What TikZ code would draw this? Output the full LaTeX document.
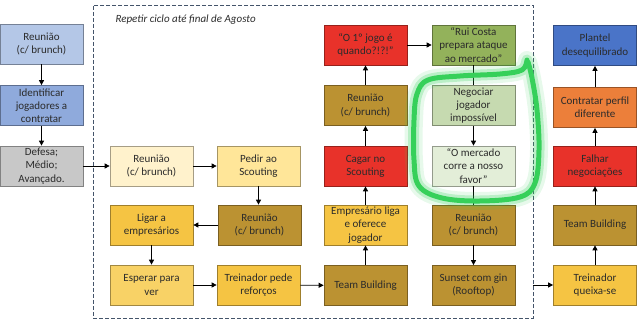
\documentclass[tikz,border=0pt]{standalone}
\usepackage{fontspec}
\setmainfont{Carlito}
\usetikzlibrary{arrows.meta}
\definecolor{cBlueL}{HTML}{B4C7E7}
\definecolor{cBlueM}{HTML}{8FAADC}
\definecolor{cBlueD}{HTML}{4A74C8}
\definecolor{cGray}{HTML}{C8C8C8}
\definecolor{cCream}{HTML}{FFF2CC}
\definecolor{cYelL}{HTML}{FFE699}
\definecolor{cYel}{HTML}{F5C443}
\definecolor{cYelP}{HTML}{F8D266}
\definecolor{cBrown}{HTML}{BB9232}
\definecolor{cRed}{HTML}{E8322A}
\definecolor{cOlive}{HTML}{93B25B}
\definecolor{cGreenL}{HTML}{C6DAB0}
\definecolor{cGreenP}{HTML}{E3EED8}
\definecolor{cOrange}{HTML}{EC7F3A}
\definecolor{cHigh}{HTML}{36D05A}
\definecolor{cFrame}{HTML}{44546A}
\definecolor{cText}{HTML}{2B2B2B}
\tikzset{
  box/.style={draw=#1!65!black, fill=#1, line width=0.7pt, minimum width=83pt, minimum height=40pt,
    inner sep=1pt, align=center, text=cText, font=\fontsize{11}{13.2}\selectfont},
  arr/.style={-{Triangle[length=5pt,width=5pt]}, line width=0.8pt, black},
  lin/.style={line width=0.8pt, black},
  frm/.style={draw=cFrame, dash pattern=on 4pt off 2pt, line width=0.8pt, minimum width=440pt, minimum height=313pt, inner sep=0pt}
}
\begin{document}
\begin{tikzpicture}[x=1pt,y=-1pt]
\useasboundingbox (0,0) rectangle (640,320);
\node[frm] (frame) at (313,161.5) {};
\node[anchor=west, font=\fontsize{11}{13}\selectfont\itshape, text=cText] (title) at (112,20) {Repetir ciclo até final de Agosto};
% left column
\node[box=cBlueL] (l1) at (41.5,44) {Reunião\\(c/ brunch)};
\node[box=cBlueM] (l2) at (41.5,105.5) {Identificar\\jogadores a\\contratar};
\node[box=cGray] (l3) at (41.5,166) {Defesa;\\Médio;\\Avançado.};
% column A
\node[box=cCream] (a1) at (151.5,166) {Reunião\\(c/ brunch)};
\node[box=cYel] (a2) at (151.5,225) {Ligar a\\empresários};
\node[box=cYelP] (a3) at (151.5,285) {Esperar para\\ver};
% column B
\node[box=cYelL] (b1) at (258.5,166) {Pedir ao\\Scouting};
\node[box=cBrown] (b2) at (259.5,225) {Reunião\\(c/ brunch)};
\node[box=cYel] (b3) at (258.5,285) {Treinador pede\\reforços};
% column C
\node[box=cRed] (c1) at (365.5,45) {“O 1º jogo é\\quando?!?!”};
\node[box=cBrown] (c2) at (365.5,105.5) {Reunião\\(c/ brunch)};
\node[box=cRed] (c3) at (365.5,166) {Cagar no\\Scouting};
\node[box=cYel] (c4) at (365.5,225) {Empresário liga\\e oferece\\jogador};
\node[box=cBrown] (c5) at (365.5,285.5) {Team Building};
% column D
\node[box=cOlive] (d1) at (473.5,45) {“Rui Costa\\prepara ataque\\ao mercado”};
\node[box=cGreenL] (d2) at (473.5,105.5) {Negociar\\jogador\\impossível};
\node[box=cGreenP] (d3) at (473.5,166) {“O mercado\\corre a nosso\\favor”};
\node[box=cBrown] (d4) at (473.5,225) {Reunião\\(c/ brunch)};
\node[box=cBrown] (d5) at (473.5,285.5) {Sunset com gin\\(Rooftop)};
% column E
\node[box=cBlueD] (e1) at (595,45.5) {Plantel\\desequilibrado};
\node[box=cOrange] (e2) at (595,107.5) {Contratar perfil\\diferente};
\node[box=cRed] (e3) at (595,166) {Falhar\\negociações};
\node[box=cBrown] (e4) at (595,225) {Team Building};
\node[box=cYel] (e5) at (595,285) {Treinador\\queixa-se};
% connectors
\draw[arr] (l1) -- (l2);
\draw[arr] (l2) -- (l3);
\draw[arr] (l3) -- (a1);
\draw[arr] (a1) -- (b1);
\draw[arr] (b1) -- (b1 |- b2.north);
\draw[arr] (b2) -- (a2);
\draw[arr] (a2) -- (a3);
\draw[arr] (a3) -- (b3);
\draw[arr] (b3) -- (c5);
\draw[arr] (c5) -- (c4);
\draw[arr] (c4) -- (c3);
\draw[arr] (c3) -- (c2);
\draw[arr] (c2) -- (c1);
\draw[arr] (c1) -- (d1);
\draw[lin] (d1) -- (d2);
\draw[arr] (d2) -- (d3);
\draw[lin] (d3) -- (d4);
\draw[arr] (d4) -- (d5);
\draw[arr] (frame.east |- e5) -- (e5);
\draw[arr] (e5) -- (e4);
\draw[arr] (e4) -- (e3);
\draw[arr] (e3) -- (e2);
\draw[arr] (e2) -- (e1);
% highlight
\def\loopcoords{(527,60) (522,70) (500,74) (460,76) (428,80) (417,94) (414,120) (414,160) (419,186) (442,198) (480,201) (520,197) (535,183) (539,150) (537,110) (532,78) (528,62)}
\draw[cHigh, opacity=0.12, line width=18pt, line cap=round, line join=round] plot[smooth, tension=0.6] coordinates {\loopcoords};
\draw[cHigh, opacity=0.25, line width=11pt, line cap=round, line join=round] plot[smooth, tension=0.6] coordinates {\loopcoords};
\draw[cHigh, line width=5pt, line cap=round, line join=round] plot[smooth, tension=0.6] coordinates {\loopcoords};
\end{tikzpicture}
\end{document}
